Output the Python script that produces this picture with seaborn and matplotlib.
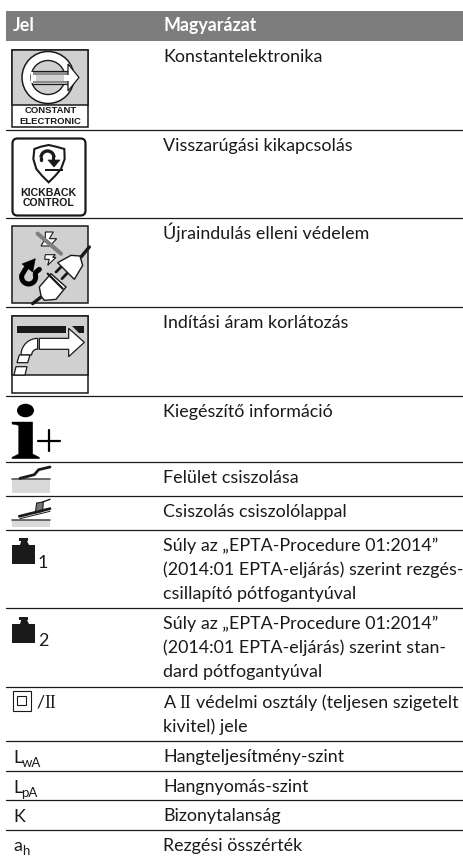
import numpy as np
import pandas as pd
import matplotlib
matplotlib.use("Agg")
import matplotlib.pyplot as plt
from matplotlib.patches import Rectangle, Polygon, Circle, Ellipse, FancyBboxPatch, Arc
import seaborn as sns

# table content
HEADER = ["Jel", "Magyarázat"]
RULES_Y = [130, 218, 307, 396, 462, 496, 530, 608, 687, 741, 771, 799.5, 829.5]
ROW_TOPS = [41, 130, 218, 307, 396, 462, 496, 530, 608, 687, 741, 771, 799.5, 829.5]
ROW_TEXT = [
    ["Konstantelektronika"],
    ["Visszarúgási kikapcsolás"],
    ["Újraindulás elleni védelem"],
    ["Indítási áram korlátozás"],
    ["Kiegészítő információ"],
    ["Felület csiszolása"],
    ["Csiszolás csiszolólappal"],
    ["Súly az „EPTA-Procedure 01:2014”", "(2014:01 EPTA-eljárás) szerint rezgés-", "csillapító pótfogantyúval"],
    ["Súly az „EPTA-Procedure 01:2014”", "(2014:01 EPTA-eljárás) szerint stan-", "dard pótfogantyúval"],
    ["A", "kivitel) jele"],
    ["Hangteljesítmény-szint"],
    ["Hangnyomás-szint"],
    ["Bizonytalanság"],
    ["Rezgési összérték"],
]

FONT = "Lato"
SIZE = 12.9
GREY = "#d0d0d0"
HEAD_GREY = "#7d7d7d"
INK = "#1a1a1a"

sns.set_theme(style="white")
plt.rcParams["font.family"] = [FONT, "DejaVu Sans"]


def poly(ax, pts, fc="white", ec=INK, lw=1.0, z=3):
    ax.add_patch(Polygon(pts, closed=True, fc=fc, ec=ec, lw=lw, zorder=z))


def zpts(pts, ox, oy):
    return [(ox + x / 3, oy + y / 3) for x, y in pts]


def icon_constant(ax):
    ax.add_patch(Rectangle((12.5, 50), 76, 76.5, fc="white", ec=INK, lw=1.1, zorder=2))
    ax.add_patch(Rectangle((12.5, 50), 76, 55, fc=GREY, ec=INK, lw=1.1, zorder=2))
    cx, cy = 48, 77.5
    ax.add_patch(Circle((cx, cy), 26, fc="white", ec=INK, lw=1.1, zorder=3))
    ax.add_patch(Circle((cx, cy), 17, fc=GREY, ec=INK, lw=1.0, zorder=3))
    # gap in the ring where the arrow leaves
    ax.add_patch(Rectangle((60, 71), 16, 13, fc=GREY, ec="none", zorder=3))
    ax.plot([33, 70], [71, 71], color=INK, lw=0.9, zorder=4)
    ax.plot([33, 70], [84, 84], color=INK, lw=0.9, zorder=4)
    ax.add_patch(Rectangle((31, 72), 5, 11, fc="white", ec="none", zorder=4))
    ax.add_patch(Rectangle((33, 72), 36, 2.5, fc="#8c8c8c", ec="none", zorder=4))
    ax.add_patch(Rectangle((33, 80.5), 36, 2.5, fc="#8c8c8c", ec="none", zorder=4))
    poly(ax, [(68, 71), (68, 64), (79, 77.5), (68, 91), (68, 84)], lw=0.9, z=5)
    ax.add_patch(Rectangle((64, 74.5), 7, 6, fc="white", ec="none", zorder=6))
    for txt, y in [("CONSTANT", 112.5), ("ELECTRONIC", 123.5)]:
        ax.text(50.5, y, txt, family="Liberation Sans", weight="bold", fontsize=6.8,
                ha="center", va="baseline", color=INK, zorder=6)


def icon_kickback(ax):
    ax.add_patch(FancyBboxPatch((16, 142), 66, 70, boxstyle="round,pad=3.5,rounding_size=5",
                                fc="white", ec=INK, lw=1.6, zorder=2))
    shield = zpts([(85, 45), (105, 38), (128, 33), (150, 38), (175, 45), (176, 75), (165, 105),
                   (148, 125), (128, 145), (108, 125), (91, 105), (82, 75)], 6, 134)
    poly(ax, shield, lw=1.5)
    # hook arrow
    ax.add_patch(Arc((47.5, 157.5), 13, 13, theta1=180, theta2=360, ec=INK, lw=2.4, zorder=4))
    ax.plot([41, 41], [157.5, 160], color=INK, lw=2.4, zorder=4)
    poly(ax, [(48, 160), (60, 160), (54, 167)], fc=INK, lw=0.5, z=4)
    ax.add_patch(Rectangle((45, 168.5), 18, 2.5, fc=INK, ec="none", zorder=4))
    ax.add_patch(Rectangle((52.5, 156), 3, 5, fc=INK, ec="none", zorder=4))
    for txt, y in [("KICKBACK", 195.5), ("CONTROL", 206)]:
        ax.text(48.5, y, txt, family="Liberation Sans", weight="bold", fontsize=7.6,
                ha="center", va="baseline", color=INK, zorder=6)


def icon_restart(ax):
    ox, oy = 6, 222
    ax.add_patch(Rectangle((12.5, 226), 76, 77, fc=GREY, ec=INK, lw=1.1, zorder=2))
    # bolts
    poly(ax, zpts([(118, 30), (142, 30), (130, 50), (152, 50), (132, 72), (105, 72), (118, 50)], ox, oy), lw=0.8)
    poly(ax, zpts([(118, 98), (148, 98), (140, 106), (150, 106), (125, 130), (130, 112), (116, 112)], ox, oy), lw=0.8)
    ax.plot(*zip(*zpts([(95, 35), (165, 95)], ox, oy)), color="#7f7f7f", lw=3.0, zorder=4)
    # plugs, cords and pins
    ax.plot(*zip(*zpts([(225, 105), (250, 75)], ox, oy)), color=INK, lw=2.4, zorder=3)
    ax.plot(*zip(*zpts([(105, 225), (80, 245)], ox, oy)), color=INK, lw=2.4, zorder=3)
    ax.plot(*zip(*zpts([(150, 150), (170, 130)], ox, oy)), color=INK, lw=2.0, zorder=3)
    ax.plot(*zip(*zpts([(168, 170), (185, 152)], ox, oy)), color=INK, lw=2.0, zorder=3)
    poly(ax, zpts([(155, 122), (195, 100), (222, 102), (230, 130), (205, 172)], ox, oy), lw=1.0, z=4)
    poly(ax, zpts([(100, 195), (135, 155), (180, 195), (150, 232), (115, 235), (105, 222)], ox, oy), lw=1.0, z=4)
    ax.plot(*zip(*zpts([(125, 155), (170, 200)], ox, oy)), color=INK, lw=1.6, zorder=5)
    # magnet with arrow
    c = zpts([(68, 165)], ox, oy)[0]
    ax.add_patch(Arc(c, 14, 14, theta1=-30, theta2=190, ec="black", lw=3.6, zorder=4))
    ax.plot(*zip(*zpts([(47, 160), (62, 135)], ox, oy)), color="black", lw=3.6, zorder=4)
    poly(ax, zpts([(48, 126), (88, 110), (80, 150)], ox, oy), fc="black", ec="black", lw=0.4, z=4)
    ax.plot(*zip(*zpts([(88, 152), (100, 142)], ox, oy)), color="black", lw=3.6, zorder=4)


def icon_start_current(ax):
    ox, oy = 6, 310
    ax.add_patch(Rectangle((12.5, 316), 76, 77, fc="white", ec=INK, lw=1.1, zorder=2))
    ax.add_patch(Rectangle((12.5, 316), 76, 59, fc=GREY, ec=INK, lw=1.1, zorder=2))
    ax.add_patch(Rectangle((17.5, 325.5), 48.5, 7, fc=INK, ec="none", zorder=3))
    poly(ax, zpts([(197, 47), (235, 47), (235, 68), (220, 68)], ox, oy), fc=INK, ec="none", z=3)
    poly(ax, zpts([(100, 85), (188, 85), (188, 55), (235, 97), (188, 140), (188, 118), (100, 118)], ox, oy), lw=0.9)
    t = np.radians(np.linspace(180, 270, 12))
    outer = [(95 + 50 * np.cos(a), 135 + 50 * np.sin(a)) for a in t]
    inner = [(95 + 18 * np.cos(a), 135 + 18 * np.sin(a)) for a in t[::-1]]
    poly(ax, zpts(outer + [(95, 85), (95, 118)] + inner, ox, oy), lw=0.9)
    poly(ax, zpts([(40, 135), (72, 135), (65, 158), (33, 158)], ox, oy), lw=0.9)
    poly(ax, zpts([(30, 170), (63, 170), (57, 195), (24, 195)], ox, oy), lw=0.9)


def icon_info(ax):
    ox, oy = 6, 398
    ax.add_patch(Ellipse((25.5, 410.5), 17, 13.5, fc="black", ec="none", zorder=3))
    poly(ax, zpts([(18, 72), (80, 72), (80, 168), (100, 178), (100, 182), (18, 182), (18, 178),
                   (38, 168), (38, 82), (18, 78)], ox, oy), fc="black", ec="black", lw=0.3)
    ax.plot([38, 60], [441, 441], color="black", lw=1.6, zorder=3)
    ax.plot([49.5, 49.5], [430, 451], color="black", lw=1.6, zorder=3)


def icon_surface(ax):
    ox, oy = 6, 398
    ax.add_patch(Rectangle((12, 479), 38, 14, fc="#d9d9d9", ec="none", zorder=2))
    ax.plot([12, 50], [479, 479], color="#555555", lw=1.2, zorder=3)
    ax.plot(*zip(*zpts([(42, 241), (85, 230), (98, 215), (132, 207)], ox, oy)), color=INK, lw=2.0, zorder=4)


def icon_disc(ax):
    ox, oy = 6, 398
    ax.add_patch(Rectangle((12, 520), 38, 7, fc="#d9d9d9", ec="none", zorder=2))
    ax.plot([12, 50], [520, 520], color="#555555", lw=1.2, zorder=3)
    poly(ax, zpts([(88, 345), (92, 315), (112, 312), (110, 340)], ox, oy), fc="#777777", lw=0.8)
    ax.plot(*zip(*zpts([(40, 355), (132, 332)], ox, oy)), color=INK, lw=2.0, zorder=4)
    ax.plot(*zip(*zpts([(42, 362), (132, 340)], ox, oy)), color=INK, lw=0.7, zorder=4)
    ax.plot(*zip(*zpts([(110, 312), (132, 304)], ox, oy)), color=INK, lw=1.0, zorder=4)


def icon_weight(ax, top, num):
    ax.add_patch(Rectangle((19.5, top), 9, 2.5, fc=INK, ec="none", zorder=3))
    poly(ax, [(21.5, top + 2), (26.5, top + 2), (29, top + 7), (20, top + 7)], fc=INK, ec="none")
    ax.add_patch(Rectangle((12.5, top + 7), 23, 18.5, fc=INK, ec="none", zorder=3))
    ax.text(38, top + 29.5, num, fontsize=SIZE, color=INK, va="baseline", zorder=4)


def draw_symbols(ax):
    icon_constant(ax)
    icon_kickback(ax)
    icon_restart(ax)
    icon_start_current(ax)
    icon_info(ax)
    icon_surface(ax)
    icon_disc(ax)
    icon_weight(ax, 538, "1")
    icon_weight(ax, 617, "2")
    # protection class II
    ax.add_patch(Rectangle((13, 690.5), 18, 20, fc="none", ec=INK, lw=0.8, zorder=3))
    ax.add_patch(Rectangle((17, 696), 9.5, 9, fc="none", ec=INK, lw=0.8, zorder=3))
    ax.text(36.5, 708, "/", fontsize=SIZE, color=INK, va="baseline")
    ax.text(44, 708, "II", family="Liberation Serif", fontsize=SIZE, color=INK, va="baseline")
    # letter symbols with subscripts
    for y, main, sub, x_sub in [(763, "L", "wA", 21.5), (792.7, "L", "pA", 21.5), (821.7, "K", "", 0), (850.7, "a", "h", 22)]:
        ax.text(13, y, main, fontsize=SIZE, color=INK, va="baseline")
        if sub:
            ax.text(x_sub, y + 4, sub, fontsize=SIZE - 3.4, color=INK, va="baseline")


fig = plt.figure(figsize=(4.64, 8.56), dpi=100)
ax = fig.add_axes([0, 0, 1, 1])

rules = pd.DataFrame({
    "x": [6, 463] * len(RULES_Y),
    "y": [y for y in RULES_Y for _ in (0, 1)],
    "rule": [i for i in range(len(RULES_Y)) for _ in (0, 1)],
})
sns.lineplot(data=rules, x="x", y="y", units="rule", estimator=None, color=INK,
             linewidth=0.9, ax=ax, legend=False)

ax.set_xlim(0, 464)
ax.set_ylim(856, 0)
ax.set_axis_off()

# header band
ax.add_patch(Rectangle((6, 11), 457, 30, fc=HEAD_GREY, ec="none", zorder=1))
ax.text(13, 31, HEADER[0], color="white", weight="bold", fontsize=SIZE, va="baseline")
ax.text(163.5, 31, HEADER[1], color="white", weight="bold", fontsize=SIZE, va="baseline")

# right hand column
for top, lines in zip(ROW_TOPS, ROW_TEXT):
    for i, line in enumerate(lines):
        ax.text(163.5, top + 21 + i * 24, line, fontsize=SIZE, color=INK, va="baseline")

# the first line of the class II row mixes in serif numerals
y_ii = ROW_TOPS[9] + 21
ax.text(179, y_ii, "II", family="Liberation Serif", fontsize=SIZE, color=INK, va="baseline")
ax.text(196.5, y_ii, "védelmi osztály (teljesen szigetelt", fontsize=SIZE, color=INK, va="baseline")

draw_symbols(ax)

fig.savefig("out.png", dpi=100)
plt.close(fig)
